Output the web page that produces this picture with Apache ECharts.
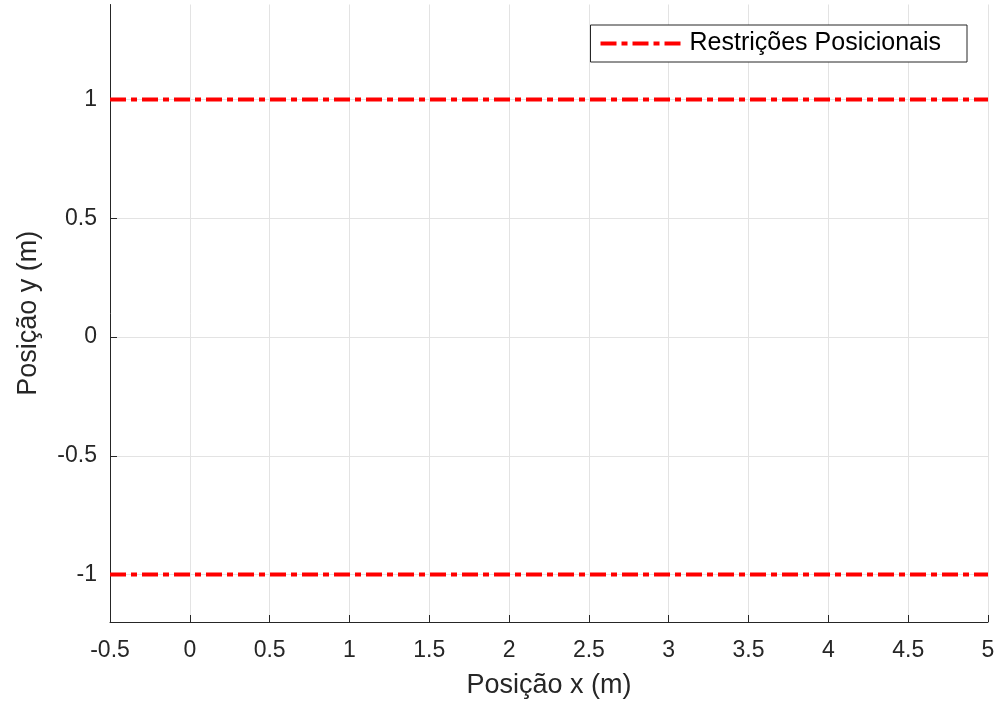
<!DOCTYPE html>
<html>
<head>
<meta charset="utf-8">
<script src="https://cdn.jsdelivr.net/npm/echarts@6/dist/echarts.min.js"></script>
<style>
  html, body { margin: 0; padding: 0; background: #fff; }
  #chart { width: 995px; height: 704px; }
</style>
</head>
<body>
<div id="chart"></div>
<script>
// Positional limits of the workspace (upper and lower bound along y)
const seriesName = 'Restrições Posicionais';
const limitX = [-0.5, 5];
const upperY = [1, 1];
const lowerY = [-1, -1];

// Axis ticks
const xTicks = [-0.5, 0, 0.5, 1, 1.5, 2, 2.5, 3, 3.5, 4, 4.5, 5];
const yTicks = [-1, -0.5, 0, 0.5, 1];

const axisColor = '#262626';
const font = '"Liberation Sans", Arial, Helvetica, sans-serif';
const dash = [16, 5, 6, 5];

const chart = echarts.init(document.getElementById('chart'), null, { renderer: 'canvas' });

function pairs(xs, ys) { return xs.map((x, i) => [x, ys[i]]); }

const lineSeries = (data) => ({
  name: seriesName,
  type: 'line',
  data: data,
  symbol: 'none',
  silent: true,
  lineStyle: { color: '#ff0000', width: 4, type: dash, cap: 'butt' },
  itemStyle: { color: '#ff0000' }
});

chart.setOption({
  animation: false,
  backgroundColor: '#ffffff',
  textStyle: { fontFamily: font },
  grid: { left: 110, right: 7, top: 4.5, bottom: 82, containLabel: false, outerBoundsMode: 'none' },
  legend: {
    data: [seriesName],
    right: 28,
    top: 25,
    orient: 'horizontal',
    itemWidth: 80,
    itemHeight: 14,
    padding: [6, 26, 6, 8],
    borderColor: axisColor,
    borderWidth: 1,
    borderRadius: 0,
    backgroundColor: '#ffffff',
    textStyle: { fontFamily: font, fontSize: 25, color: '#000000', padding: [0, 0, 0, 4] },
    itemStyle: { opacity: 0 },
    lineStyle: { color: '#ff0000', width: 4, type: dash, opacity: 1 }
  },
  xAxis: {
    type: 'value',
    min: -0.5,
    max: 5,
    interval: 0.5,
    name: 'Posição x (m)',
    nameLocation: 'middle',
    nameGap: 50,
    nameTextStyle: { fontFamily: font, fontSize: 27, color: axisColor },
    axisLine: { show: true, onZero: false, lineStyle: { color: axisColor, width: 1 } },
    axisTick: { show: true, inside: true, length: 7, lineStyle: { color: axisColor } },
    axisLabel: {
      fontFamily: font, fontSize: 23, color: axisColor, margin: 17,
      customValues: xTicks,
      formatter: v => String(v)
    },
    splitLine: { show: true, lineStyle: { color: '#e3e3e3', width: 1 } }
  },
  yAxis: {
    type: 'value',
    min: -1.2,
    max: 1.4,
    name: 'Posição y (m)',
    nameLocation: 'middle',
    nameGap: 68,
    nameRotate: 90,
    nameTextStyle: { fontFamily: font, fontSize: 27, color: axisColor },
    axisLine: { show: true, onZero: false, lineStyle: { color: axisColor, width: 1 } },
    axisTick: { show: true, inside: true, length: 7, customValues: yTicks, lineStyle: { color: axisColor } },
    axisLabel: {
      fontFamily: font, fontSize: 23, color: axisColor, margin: 13,
      customValues: yTicks,
      formatter: v => String(v)
    },
    splitLine: { show: true, lineStyle: { color: '#e3e3e3', width: 1 } }
  },
  series: [
    lineSeries(pairs(limitX, upperY)),
    lineSeries(pairs(limitX, lowerY))
  ]
});
</script>
</body>
</html>
